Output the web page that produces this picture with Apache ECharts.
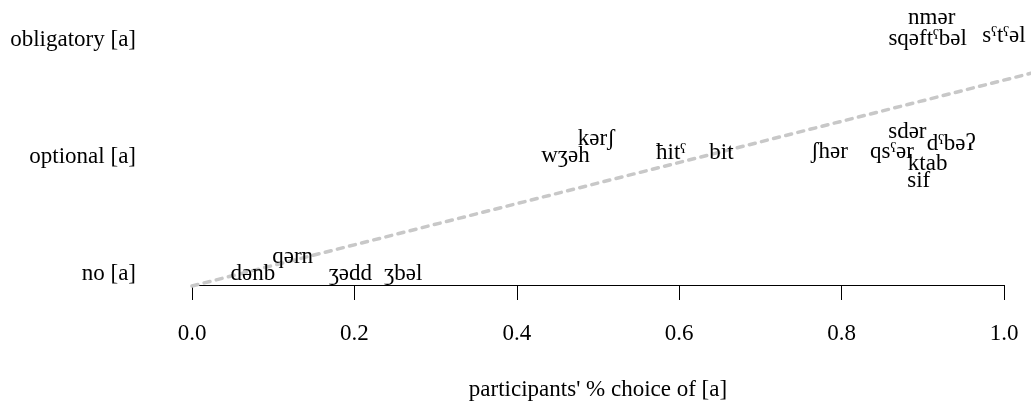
<!DOCTYPE html>
<html>
<head>
<meta charset="utf-8">
<script src="https://cdn.jsdelivr.net/npm/echarts@6/dist/echarts.min.js"></script>
<style>
html,body{margin:0;padding:0;background:#fff;}
#chart{width:1031px;height:406px;}
</style>
</head>
<body>
<div id="chart"></div>
<script>
// Category levels on the y axis
const levels = ['no [a]', 'optional [a]', 'obligatory [a]'];
const levelValues = [0, 1, 2];
// x-axis tick labels
const xTicks = [0, 0.2, 0.4, 0.6, 0.8, 1.0];
// Words plotted
const words = ['dənb','qərn','ʒədd','ʒbəl','wʒəh','kərʃ','ħitˤ','bit','ʃhər','qsˤər','sdər','dˤbəʔ','ktab','sif','nmər','sqəftˤbəl','sˤtˤəl'];
// participants' proportion choice of [a]
const xVals = [0.075,0.124,0.195,0.260,0.460,0.498,0.590,0.652,0.785,0.862,0.881,0.935,0.906,0.895,0.911,0.906,1.000];
// level (with the vertical offsets seen in the plot)
const yVals = [0.00,0.145,0.00,0.00,1.01,1.15,1.03,1.03,1.04,1.04,1.21,1.11,0.94,0.79,2.19,2.01,2.03];
// fitted line
const lineIntercept = -0.095;
const lineSlope = 1.753;

const FONT = '"Liberation Serif", "DejaVu Serif", serif';
const FS = 23;
const Y_MIN = -0.095, Y_MAX = 2.255;
const X_EXT = (1031 - 192) / 812; // x reached at the right edge of the picture

const chart = echarts.init(document.getElementById('chart'), null, {renderer: 'canvas'});
chart.setOption({
  animation: false,
  backgroundColor: '#ffffff',
  grid: [
    {left: 192, right: 27, top: 10, bottom: 120, containLabel: false},
    {left: 192, right: 0, top: 10, bottom: 120, containLabel: false}
  ],
  xAxis: [{
    gridIndex: 0, type: 'value', min: 0, max: 1, interval: 0.2,
    name: "participants' % choice of [a]",
    nameLocation: 'middle', nameGap: 93,
    nameTextStyle: {fontFamily: FONT, fontSize: FS, color: '#000'},
    axisLine: {show: true, onZero: false, lineStyle: {color: '#000', width: 1}},
    axisTick: {show: true, inside: false, length: 15, lineStyle: {color: '#000', width: 1}},
    axisLabel: {margin: 37, fontFamily: FONT, fontSize: FS, color: '#000',
      formatter: v => v.toFixed(1), customValues: xTicks},
    splitLine: {show: false}
  }, {
    gridIndex: 1, type: 'value', min: 0, max: X_EXT, show: false
  }],
  yAxis: [{
    gridIndex: 0, type: 'value', min: Y_MIN, max: Y_MAX,
    axisLine: {show: false}, axisTick: {show: false}, splitLine: {show: false},
    axisLabel: {margin: 56, fontFamily: FONT, fontSize: FS, color: '#000',
      customValues: levelValues, formatter: v => levels[Math.round(v)]}
  }, {
    gridIndex: 1, type: 'value', min: Y_MIN, max: Y_MAX, show: false
  }],
  series: [
    {
      type: 'line', xAxisIndex: 1, yAxisIndex: 1, clip: false, silent: true, symbol: 'none',
      data: [0, X_EXT].map(x => [x, lineIntercept + lineSlope * x]),
      lineStyle: {color: '#c8c8c8', width: 3.5, type: [6, 6.5], cap: 'round'},
      z: 1
    },
    {
      type: 'scatter', xAxisIndex: 0, yAxisIndex: 0, clip: false, silent: true, symbolSize: 1,
      itemStyle: {color: 'rgba(0,0,0,0)', opacity: 1},
      data: words.map((w, i) => ({name: w, value: [xVals[i], yVals[i]]})),
      label: {show: true, position: 'inside', formatter: p => p.name,
        fontFamily: FONT, fontSize: FS, color: '#000', opacity: 1},
      z: 3
    }
  ]
});
</script>
</body>
</html>
